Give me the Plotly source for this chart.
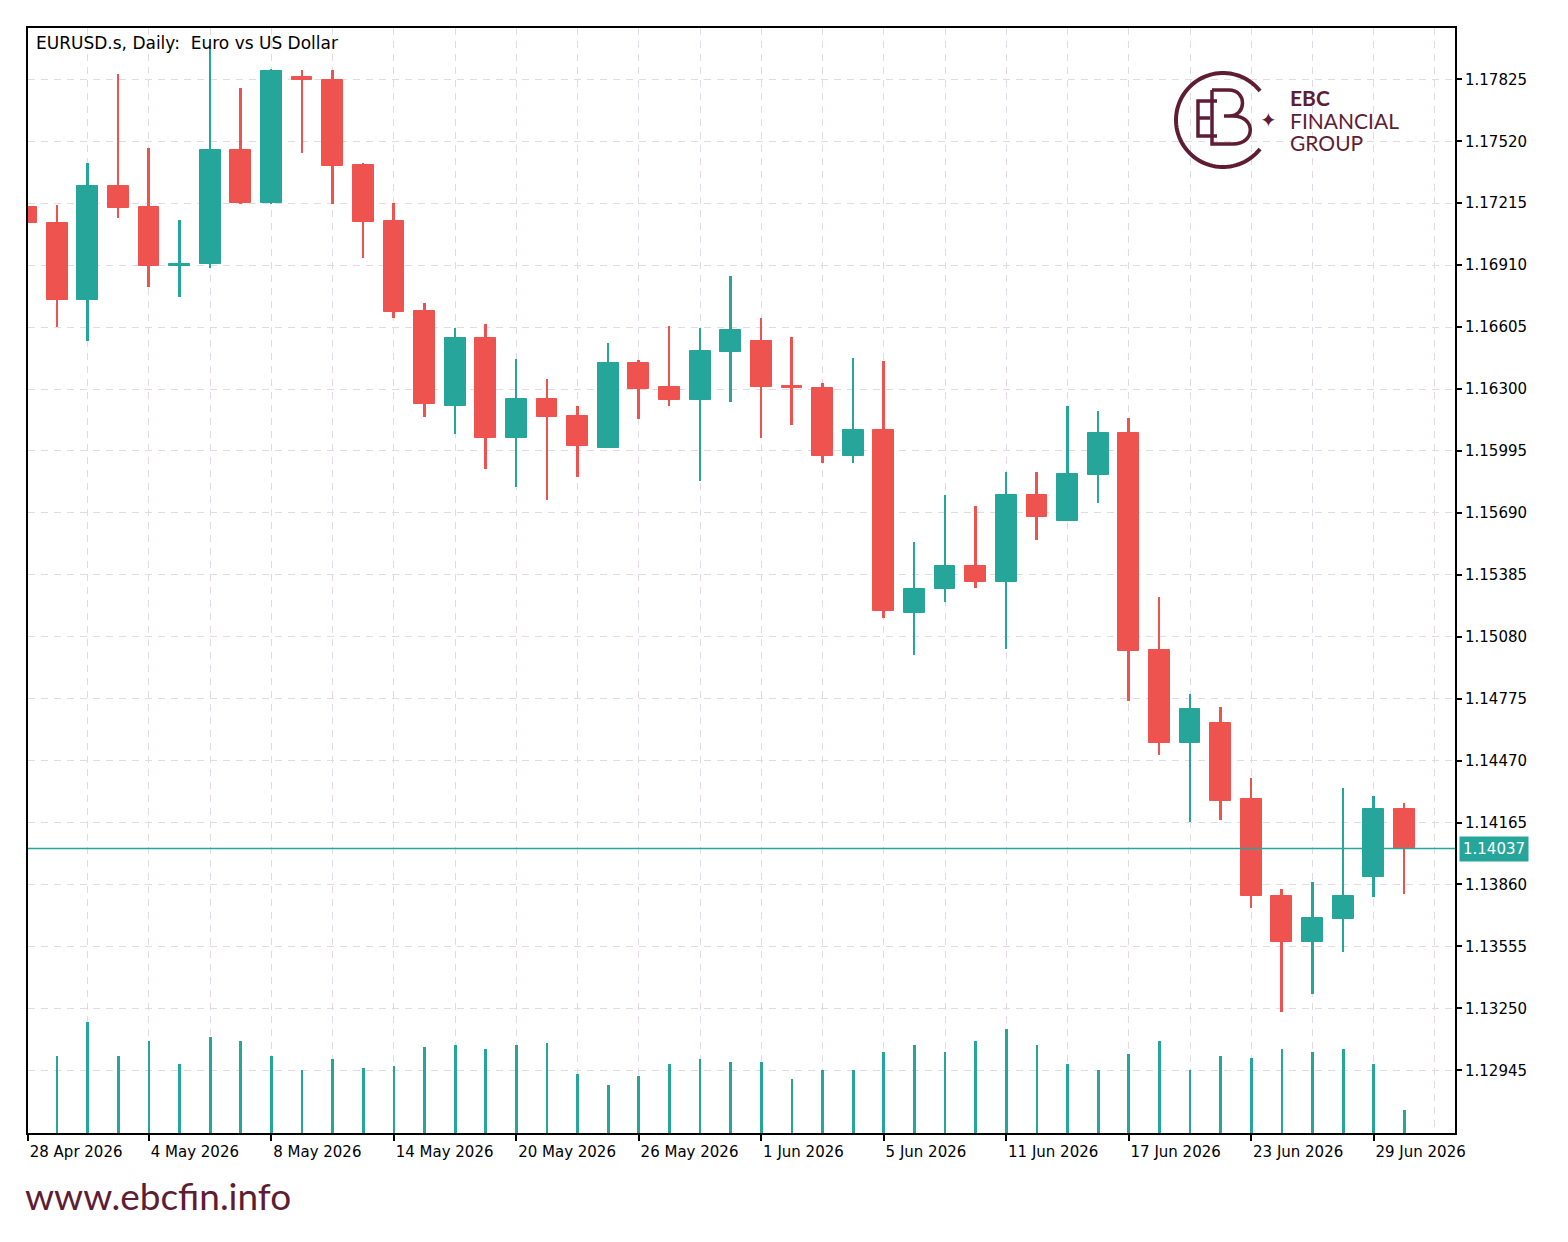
import numpy as np
import plotly.graph_objects as go

# ---------------- data ----------------
tick_labels = ["28 Apr 2026", "4 May 2026", "8 May 2026", "14 May 2026", "20 May 2026",
               "26 May 2026", "1 Jun 2026", "5 Jun 2026", "11 Jun 2026", "17 Jun 2026",
               "23 Jun 2026", "29 Jun 2026"]
tick_positions = [0, 4, 8, 12, 16, 20, 24, 28, 32, 36, 40, 44]

opens = [1.17195, 1.17119, 1.16738, 1.17300, 1.17195, 1.16906, 1.16915, 1.17477, 1.17217, 1.17839,
         1.17822, 1.17401, 1.17127, 1.16684, 1.16218, 1.16552, 1.16057, 1.16250, 1.16167, 1.16011,
         1.16429, 1.16308, 1.16246, 1.16482, 1.16535, 1.16316, 1.16306, 1.15971, 1.16098, 1.15198,
         1.15313, 1.15428, 1.15349, 1.15778, 1.15651, 1.15876, 1.16082, 1.15014, 1.14558, 1.14656,
         1.14279, 1.13804, 1.13575, 1.13688, 1.13895, 1.14231]
highs = [1.17255, 1.17206, 1.17411, 1.17850, 1.17488, 1.17131, 1.17979, 1.17781, 1.17874, 1.17871,
         1.17871, 1.17411, 1.17214, 1.16722, 1.16599, 1.16620, 1.16447, 1.16348, 1.16216, 1.16525,
         1.16443, 1.16610, 1.16602, 1.16856, 1.16648, 1.16556, 1.16328, 1.16451, 1.16439, 1.15545,
         1.15778, 1.15724, 1.15892, 1.15892, 1.16216, 1.16193, 1.16155, 1.15277, 1.14798, 1.14732,
         1.14382, 1.13836, 1.13873, 1.14336, 1.14297, 1.14262]
lows = [1.17058, 1.16604, 1.16536, 1.17140, 1.16802, 1.16754, 1.16896, 1.17213, 1.17213, 1.17464,
        1.17209, 1.16943, 1.16651, 1.16160, 1.16077, 1.15906, 1.15819, 1.15753, 1.15866, 1.16009,
        1.16151, 1.16216, 1.15848, 1.16236, 1.16057, 1.16122, 1.15934, 1.15934, 1.15170, 1.14990,
        1.15252, 1.15318, 1.15018, 1.15556, 1.15651, 1.15737, 1.14763, 1.14497, 1.14169, 1.14177,
        1.13742, 1.13233, 1.13320, 1.13526, 1.13799, 1.13811]
closes = [1.17116, 1.16738, 1.17300, 1.17190, 1.16906, 1.16918, 1.17477, 1.17217, 1.17866, 1.17822,
          1.17398, 1.17124, 1.16680, 1.16226, 1.16552, 1.16060, 1.16250, 1.16162, 1.16019, 1.16429,
          1.16301, 1.16246, 1.16488, 1.16590, 1.16311, 1.16306, 1.15971, 1.16098, 1.15208, 1.15316,
          1.15428, 1.15351, 1.15778, 1.15671, 1.15881, 1.16082, 1.15009, 1.14558, 1.14722, 1.14272,
          1.13803, 1.13575, 1.13693, 1.13804, 1.14231, 1.14037]
tick_volume = [80000, 76700, 111000, 76700, 92000, 69300, 96000, 92000, 76700, 63300,
               74300, 65300, 67000, 86300, 88300, 84300, 88300, 90000, 59300, 48000,
               57300, 69300, 74300, 71000, 71000, 53700, 63300, 63300, 80700, 88300,
               80700, 92000, 103700, 88300, 69300, 63300, 78700, 92000, 63300, 76700,
               74700, 84300, 80700, 84300, 69300, 23300]
price_ticks = [1.12945, 1.13250, 1.13555, 1.13860, 1.14165, 1.14470, 1.14775, 1.15080, 1.15385,
               1.15690, 1.15995, 1.16300, 1.16605, 1.16910, 1.17215, 1.17520, 1.17825]
last_price = 1.14037

# ---------------- styling ----------------
GREEN = "#26A69A"
RED = "#EF5350"
GRID = "#E4DAE4"
MAROON = "#5E1D33"
W, H = 1568, 1242
ML, MR, MT, MB = 28, 113, 28, 109
PW, PH = W - ML - MR, H - MT - MB
X0 = 0.05  # left edge of the x range (first bar is cut by the frame)

o = np.array(opens); h = np.array(highs); l = np.array(lows); c = np.array(closes)
idx = np.arange(len(o))
up = c >= o
dn = ~up

fig = go.Figure()

# volume (overlay axis)
fig.add_trace(go.Bar(x=idx, y=tick_volume, yaxis="y2", width=0.09,
                     marker=dict(color=GREEN, line=dict(width=0)), hoverinfo="skip"))

for mask, col in ((up, GREEN), (dn, RED)):
    # wicks
    fig.add_trace(go.Bar(x=idx[mask], base=l[mask], y=(h - l)[mask], width=0.065,
                         marker=dict(color=col, line=dict(width=0)), hoverinfo="skip"))
    # bodies
    lo = np.minimum(o, c)[mask]
    ht = np.maximum(np.abs(c - o)[mask], 0.00005)
    fig.add_trace(go.Bar(x=idx[mask], base=lo, y=ht, width=0.68,
                         marker=dict(color=col, line=dict(color=col, width=1)), hoverinfo="skip"))

# current price line
fig.add_shape(type="line", xref="paper", x0=0, x1=1, yref="y", y0=last_price, y1=last_price,
              line=dict(color=GREEN, width=1.6), layer="above")

fig.add_annotation(xref="paper", x=1, yref="y", y=last_price, xanchor="left", yanchor="middle",
                   xshift=4, text="%.5f" % last_price, showarrow=False, bgcolor=GREEN,
                   font=dict(color="white", size=15, family="DejaVu Sans"), borderpad=3)

# title
fig.add_annotation(xref="paper", yref="paper", x=0, y=1, xanchor="left", yanchor="top",
                   xshift=6, yshift=-3, showarrow=False,
                   text="EURUSD.s, Daily:\u00a0 Euro vs US Dollar",
                   font=dict(size=17, color="black", family="DejaVu Sans"))

def px2paper(px, py):
    return (px - ML) / PW, (H - MB - py) / PH

# footer
fx, fy = px2paper(23, 1195)
fig.add_annotation(xref="paper", yref="paper", x=fx, y=fy, xanchor="left", yanchor="middle",
                   showarrow=False, text="www.ebcfin.info",
                   font=dict(size=37, color=MAROON, family="Lato"))

# logo text
for txt, py, sz in (("<b>EBC</b>", 97, 21), ("FINANCIAL", 120, 21), ("GROUP", 143, 21)):
    ax, ay = px2paper(1288, py)
    fig.add_annotation(xref="paper", yref="paper", x=ax, y=ay, xanchor="left", yanchor="middle",
                       showarrow=False, text=txt, font=dict(size=sz, color=MAROON, family="Lato"))
sx, sy = px2paper(1268, 120)
fig.add_annotation(xref="paper", yref="paper", x=sx, y=sy, xanchor="center", yanchor="middle",
                   showarrow=False, text="\u2726", font=dict(size=20, color=MAROON, family="DejaVu Sans"))

# logo circle (open on the right)
cx, cy, r = 1223, 120, 47
ang = np.linspace(np.deg2rad(38), np.deg2rad(322), 80)
pts = [px2paper(cx + r * np.cos(a), cy - r * np.sin(a)) for a in ang]
path = "M " + " L ".join("%.5f,%.5f" % p for p in pts)
fig.add_shape(type="path", xref="paper", yref="paper", path=path,
              line=dict(color=MAROON, width=4), layer="above")

def ppath(cmds):
    out = []
    for cmd in cmds:
        if isinstance(cmd, str):
            out.append(cmd)
        else:
            out.append("%.5f,%.5f" % px2paper(*cmd))
    return " ".join(out)

glyph = ppath(["M", (1212, 90), "L", (1229, 90), "C", (1247, 90), (1247, 116), (1229, 116),
               "M", (1212, 90), "L", (1212, 144), "L", (1233, 144),
               "C", (1256, 144), (1256, 116), (1233, 116), "L", (1224, 116),
               "M", (1217, 101), "L", (1198, 101), "L", (1198, 136), "L", (1217, 136),
               "M", (1198, 118), "L", (1210, 118)])
fig.add_shape(type="path", xref="paper", yref="paper", path=glyph,
              line=dict(color=MAROON, width=3.5), layer="above")

# first label sits at the range start (the first bar is centred on the frame)
tick_vals_drawn = [max(p, X0) for p in tick_positions]
grid_minor = [2 + 4 * k for k in range(12)]
fig.update_layout(
    width=W, height=H, margin=dict(l=ML, r=MR, t=MT, b=MB),
    paper_bgcolor="white", plot_bgcolor="white", showlegend=False,
    barmode="overlay", bargap=0, hovermode=False,
    font=dict(family="DejaVu Sans", size=15, color="black"),
    xaxis=dict(range=[X0, X0 + PW / 30.62], tickmode="array", tickvals=tick_vals_drawn,
               ticktext=tick_labels, ticks="outside", ticklen=6, tickcolor="black", tickwidth=1.5,
               ticklabelposition="outside right", ticklabelstandoff=4,
               showline=True, linecolor="black", linewidth=2,
               mirror=True, showgrid=True, gridcolor=GRID, griddash="7px,6px", gridwidth=1,
               zeroline=False, fixedrange=True,
               minor=dict(tickvals=grid_minor, showgrid=True, gridcolor=GRID, griddash="7px,6px",
                          gridwidth=1, ticks="")),
    yaxis=dict(side="right", range=[1.12636, 1.18078], tickmode="array", tickvals=price_ticks,
               ticktext=["%.5f" % v for v in price_ticks], ticks="outside", ticklen=5,
               tickcolor="black", tickwidth=1.5, showline=True, linecolor="black", linewidth=2,
               mirror=True, showgrid=True, gridcolor=GRID, griddash="7px,6px", gridwidth=1,
               zeroline=False, fixedrange=True),
    yaxis2=dict(overlaying="y", range=[0, PH * 1000], visible=False, fixedrange=True),
)

fig.write_html("out.html")
